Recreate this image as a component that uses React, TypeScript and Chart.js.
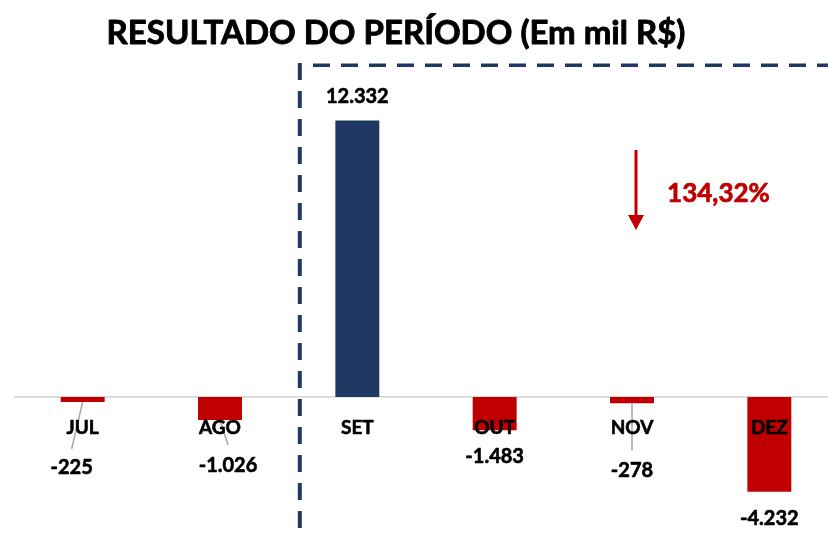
import React, { useEffect, useRef } from 'react';
import { Chart, registerables } from 'chart.js';

Chart.register(...registerables);

const titleText = 'RESULTADO DO PERÍODO (Em mil R$)';
const months = ['JUL', 'AGO', 'SET', 'OUT', 'NOV', 'DEZ'];
const resultado = [-225, -1026, 12332, -1483, -278, -4232];
const variacaoText = '134,32%';

// label placement offsets (pixels) relative to bar end, like the manual Excel placement
const labelDx = [-11, 8, 0, 0, 0, 0];
const labelDy = [65, 45, -25, 26, 67, 26];

const NAVY = '#1f3864';
const RED = '#c00000';
const FONT = 'Lato';
const W = 'bold';

const fmt = (v: number) => {
  const s = Math.abs(v).toString().replace(/\B(?=(\d{3})+(?!\d))/g, '.');
  return (v < 0 ? '-' : '') + s;
};

const heavyText = (ctx: any, text: string, x: number, y: number, color: string, sw: number) => {
  ctx.fillStyle = color;
  ctx.strokeStyle = color;
  ctx.lineWidth = sw;
  ctx.lineJoin = 'round';
  ctx.fillText(text, x, y);
  ctx.strokeText(text, x, y);
};

const decorPlugin = {
  id: 'decor',
  beforeDatasetsDraw(chart: any) {
    const ctx = chart.ctx;
    const y0 = chart.scales.y.getPixelForValue(0);
    ctx.save();
    ctx.strokeStyle = '#d9d9d9';
    ctx.lineWidth = 1.8;
    ctx.beginPath();
    ctx.moveTo(14, y0);
    ctx.lineTo(828, y0);
    ctx.stroke();
    ctx.restore();
  },
  afterDatasetsDraw(chart: any) {
    const ctx = chart.ctx;
    const meta = chart.getDatasetMeta(0);
    const y0 = chart.scales.y.getPixelForValue(0);
    ctx.save();

    // leader lines
    ctx.strokeStyle = '#a6a6a6';
    ctx.lineWidth = 1.5;
    const leaders: [number, number, number][] = [
      [0, -11, 47],
      [1, 8, 25],
      [4, 0, 47],
    ];
    leaders.forEach(([i, dx, dy]) => {
      const b = meta.data[i];
      ctx.beginPath();
      ctx.moveTo(b.x, b.y);
      ctx.lineTo(b.x + dx, b.y + dy);
      ctx.stroke();
    });

    // category labels
    ctx.textAlign = 'center';
    ctx.textBaseline = 'alphabetic';
    ctx.font = `${W} 19px ${FONT}`;
    months.forEach((m, i) => {
      const b = meta.data[i];
      heavyText(ctx, m, b.x, y0 + 37, '#000', 0.6);
    });

    // value labels
    const vs = 20;
    ctx.font = `${W} ${vs}px ${FONT}`;
    resultado.forEach((v, i) => {
      const b = meta.data[i];
      const cy = b.y + labelDy[i];
      heavyText(ctx, fmt(v), b.x + labelDx[i], cy + vs * 0.36, '#000', 0.6);
    });

    // dashed box
    ctx.strokeStyle = NAVY;
    ctx.lineWidth = 4;
    ctx.setLineDash([17, 11]);
    ctx.beginPath();
    ctx.moveTo(299.8, 63);
    ctx.lineTo(299.8, 533);
    ctx.stroke();
    ctx.lineWidth = 3.6;
    ctx.beginPath();
    ctx.moveTo(313, 65.3);
    ctx.lineTo(830, 65.3);
    ctx.stroke();
    ctx.setLineDash([]);

    // arrow
    ctx.strokeStyle = RED;
    ctx.fillStyle = RED;
    ctx.lineWidth = 3;
    ctx.beginPath();
    ctx.moveTo(636, 150);
    ctx.lineTo(636, 216);
    ctx.stroke();
    ctx.beginPath();
    ctx.moveTo(628, 215);
    ctx.lineTo(644, 215);
    ctx.lineTo(636, 230);
    ctx.closePath();
    ctx.fill();

    ctx.font = `${W} 26px ${FONT}`;
    ctx.textAlign = 'center';
    heavyText(ctx, variacaoText, 718.5, 202, RED, 0.7);

    // title
    ctx.font = `${W} 33px ${FONT}`;
    heavyText(ctx, titleText, 396, 44, '#000', 0.9);

    ctx.restore();
  },
};

export default function App() {
  const ref = useRef<HTMLCanvasElement | null>(null);
  useEffect(() => {
    if (!ref.current) return;
    const chart = new Chart(ref.current, {
      type: 'bar',
      data: {
        labels: months,
        datasets: [
          {
            data: resultado,
            backgroundColor: resultado.map((v) => (v >= 0 ? NAVY : RED)),
            barPercentage: 0.32,
            categoryPercentage: 1,
          },
        ],
      },
      options: {
        responsive: false,
        animation: false,
        layout: { padding: { left: 14, right: 2, top: 83, bottom: 24 } },
        plugins: { legend: { display: false }, tooltip: { enabled: false }, title: { display: false } },
        scales: {
          x: { display: false },
          y: { display: false, min: -5000, max: 14000 },
        },
      },
      plugins: [decorPlugin],
    });
    return () => chart.destroy();
  }, []);
  return (
    <div style={{ position: 'fixed', left: 0, top: 0, width: 828, height: 533, overflow: 'hidden', background: '#fff' }}>
      <canvas ref={ref} width={840} height={533} style={{ position: 'absolute', left: 0, top: 0, width: 840, height: 533 }} />
    </div>
  );
}
